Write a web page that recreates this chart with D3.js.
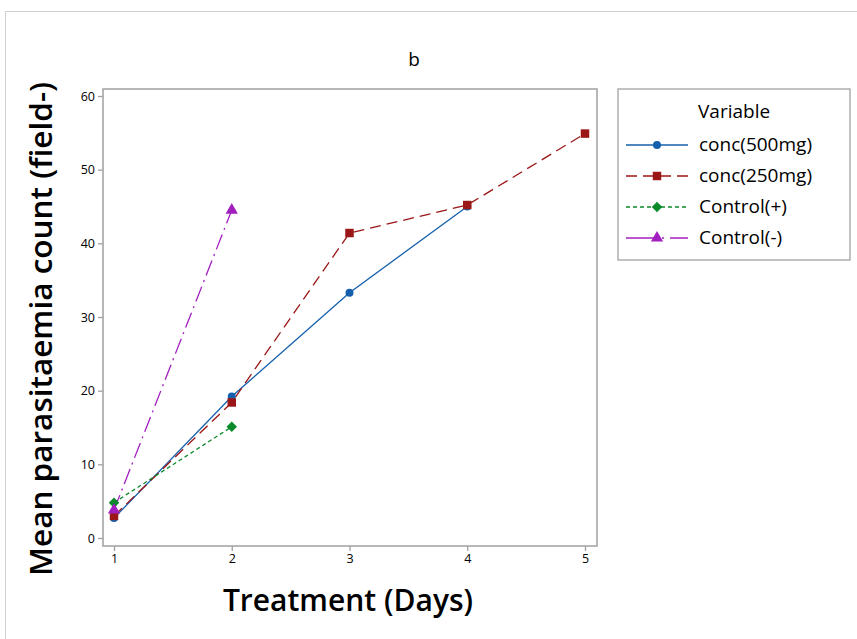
<!DOCTYPE html>
<html><head><meta charset="utf-8">
<script src="https://cdn.jsdelivr.net/npm/d3@7"></script>
<style>body{margin:0;background:#fff}svg{display:block}</style>
</head><body>
<svg id="c" width="857" height="639"></svg>
<script>
const days = [1, 2, 3, 4, 5];
const seriesNames = ["conc(500mg)", "conc(250mg)", "Control(+)", "Control(-)"];
const conc500 = [2.7, 19.2, 33.3, 45.0];
const conc250 = [3.0, 18.4, 41.4, 45.2, 54.9];
const controlPos = [4.8, 15.1];
const controlNeg = [3.8, 44.5];
const yTicks = [0, 10, 20, 30, 40, 50, 60];
const xTicks = [1, 2, 3, 4, 5];

const styles = [
  {color:"#1560ad", dash:null, sym:d3.symbolCircle, size:50, rot:0},
  {color:"#9b1616", dash:"11,6", sym:d3.symbolSquare, size:72, rot:0},
  {color:"#0b8a2b", dash:"4,3", sym:d3.symbolSquare, size:55, rot:45},
  {color:"#a11fbf", dash:"16,5,2,5", sym:d3.symbolTriangle, size:65, rot:0}
];
const allSeries = [conc500, conc250, controlPos, controlNeg];

const svg = d3.select("#c");
const font = "'Open Sans','Noto Sans',sans-serif";
svg.append("rect").attr("x",5.5).attr("y",11.5).attr("width",860).attr("height",640)
  .attr("fill","none").attr("stroke","#d0d0d0");

const x = d3.scaleLinear().domain([1,5]).range([114,585]);
const y = d3.scaleLinear().domain([0,60]).range([538,96]);

svg.append("rect").attr("x",103).attr("y",89).attr("width",494).attr("height",457)
  .attr("fill","none").attr("stroke","#a0a0a0").attr("stroke-width",1.5);

const xa = svg.append("g").attr("transform","translate(0,546)")
  .call(d3.axisBottom(x).tickValues(xTicks).tickFormat(d3.format("d")).tickSize(5).tickPadding(3));
const ya = svg.append("g").attr("transform","translate(103,0)")
  .call(d3.axisLeft(y).tickValues(yTicks).tickFormat(d3.format("d")).tickSize(5).tickPadding(3));
[xa,ya].forEach(a=>{
  a.select(".domain").remove();
  a.selectAll(".tick line").attr("stroke","#a0a0a0").attr("stroke-width",1.3);
  a.selectAll("text").attr("font-family",font).attr("font-size",12.5).attr("fill","#000");
});

svg.append("text").attr("x",414).attr("y",66).attr("text-anchor","middle")
  .attr("font-family",font).attr("font-size",19).text("b");
svg.append("text").attr("x",348).attr("y",611).attr("text-anchor","middle")
  .attr("font-family",font).attr("font-size",30).attr("font-weight",600).text("Treatment (Days)");
svg.append("text").attr("transform","translate(52,329) rotate(-90)").attr("text-anchor","middle")
  .attr("font-family",font).attr("font-size",31.5).attr("font-weight",600).text("Mean parasitaemia count (field-)");

const line = d3.line().x((d,i)=>x(days[i])).y(d=>y(d));
const plot = svg.append("g");
allSeries.forEach((s,k)=>{
  const st = styles[k];
  plot.append("path").datum(s).attr("d",line).attr("fill","none")
    .attr("stroke",st.color).attr("stroke-width",1.3)
    .attr("stroke-dasharray",st.dash);
});
allSeries.forEach((s,k)=>{
  const st = styles[k];
  plot.selectAll(null).data(s).enter().append("path")
    .attr("transform",(d,i)=>`translate(${x(days[i])},${y(d)}) rotate(${st.rot})`)
    .attr("d",d3.symbol().type(st.sym).size(st.size)).attr("fill",st.color);
});

const lg = svg.append("g");
lg.append("rect").attr("x",618).attr("y",89).attr("width",232).attr("height",171)
  .attr("fill","#fff").attr("stroke","#a0a0a0").attr("stroke-width",1.3);
lg.append("text").attr("x",698).attr("y",118).attr("font-family",font).attr("font-size",19).text("Variable");
seriesNames.forEach((n,k)=>{
  const st = styles[k];
  const yy = 145 + k*31;
  lg.append("line").attr("x1",626).attr("x2",688).attr("y1",yy).attr("y2",yy)
    .attr("stroke",st.color).attr("stroke-width",1.5).attr("stroke-dasharray",k===3?"30,6,2,6":st.dash);
  lg.append("path").attr("transform",`translate(657,${yy}) rotate(${st.rot})`)
    .attr("d",d3.symbol().type(st.sym).size(st.size)).attr("fill",st.color);
  lg.append("text").attr("x",699).attr("y",yy+6).attr("font-family",font).attr("font-size",19).text(n);
});
</script>
</body></html>
